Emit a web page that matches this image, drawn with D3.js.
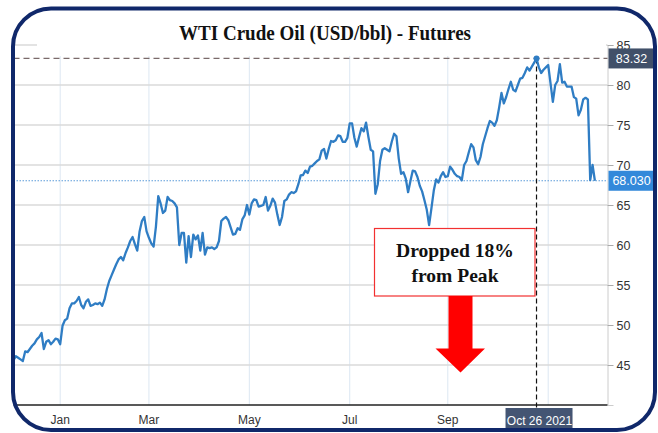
<!DOCTYPE html>
<html>
<head>
<meta charset="utf-8">
<script src="https://cdn.jsdelivr.net/npm/d3@7"></script>
<style>
  body { margin: 0; background: #fff; }
</style>
</head>
<body>
<div id="chart"></div>
<script>
// daily WTI futures closes, one per trading day from early Dec 2020
const prices = [
  45.6, 46.1, 45.9, 45.7, 45.5, 46.7, 46.6, 47.0, 47.4, 47.7,
  48.2, 48.5, 49.0, 47.0, 47.9, 48.1, 47.6, 47.9, 48.3, 48.2,
  47.6, 49.9, 50.6, 50.8, 52.1, 52.7, 52.7, 53.0, 53.5, 52.5,
  52.1, 52.9, 53.2, 52.4, 52.5, 52.7, 52.6, 52.8, 52.4, 53.2,
  54.5, 55.5, 56.2, 56.9, 57.6, 58.2, 58.5, 58.1, 59.0, 59.7,
  60.5, 61.0, 60.1, 59.3, 61.7, 63.0, 63.5, 61.7, 60.9, 60.2,
  59.8, 62.3, 66.1, 65.2, 64.0, 64.3, 66.0, 65.6, 65.5, 65.2,
  64.7, 60.0, 61.5, 61.5, 57.8, 61.1, 58.5, 61.3, 60.7, 61.2,
  59.3, 61.5, 58.8, 59.7, 59.6, 59.7, 59.5, 59.7, 60.5, 63.0,
  63.3, 63.5, 63.1, 62.2, 61.3, 61.4, 62.1, 61.9, 63.2, 63.7,
  65.0, 63.8, 65.2, 65.7, 65.6, 64.8, 64.9, 65.0, 66.0, 64.3,
  64.9, 65.8, 65.3, 63.8, 62.5, 63.5, 65.5, 65.7, 66.3, 66.6,
  66.5, 66.7, 67.6, 68.7, 68.75, 69.3, 69.0, 69.8, 69.9, 70.2,
  70.5, 70.7, 71.8, 72.0, 70.8, 72.0, 73.0, 72.9, 73.1, 73.7,
  73.6, 72.9, 72.9, 73.4, 75.2, 75.2, 73.4, 72.3, 73.5, 74.6,
  74.2, 75.3, 73.5, 71.9, 71.7, 66.4, 67.6, 70.5, 71.9, 72.1,
  71.9, 71.7, 72.9, 73.9, 73.6, 70.8, 68.9, 69.1, 68.3, 66.6,
  68.0, 69.3, 69.2, 68.5, 67.4, 66.7, 65.6, 64.4, 62.5, 64.6,
  66.8, 68.2, 67.8, 68.6, 69.1, 68.5, 68.6, 69.8, 69.4, 68.9,
  68.6, 68.5, 68.1, 70.0, 70.5, 71.6, 72.6, 72.2, 70.6, 70.1,
  71.0, 72.6, 73.6, 74.6, 75.5, 75.3, 74.9, 75.6, 77.2, 79.0,
  77.7, 78.5, 79.5, 80.4, 79.4, 79.2, 80.0, 80.8, 80.9, 81.5,
  82.2, 81.8, 82.3, 82.8, 83.32, 82.2, 81.5, 81.9, 82.2, 82.5,
  80.2, 77.9, 80.0, 80.5, 82.6, 80.3, 80.4, 79.8, 79.8, 79.8,
  78.5, 78.3, 76.2, 76.9, 78.2, 78.4, 78.2, 68.1, 70.0, 68.03
];

const yTicks = [45, 50, 55, 60, 65, 70, 75, 80, 85];
const monthNames = ["Jan", "Mar", "May", "Jul", "Sep"];
const monthStart = [20, 58, 101, 144, 186, 229];   // index of first trading day
const peakDate = "Oct 26 2021";
const noteLines = ["Dropped 18%", "from Peak"];
const titleText = "WTI Crude Oil (USD/bbl) - Futures";

const width = 658, height = 433;
const plot = {left: 13.5, right: 607.5, top: 45, bottom: 405};

const svg = d3.select("#chart").append("svg")
              .attr("width", width)
              .attr("height", height);

const x = d3.scaleLinear().domain([0, 254.4]).range([plot.left, plot.right]);
const y = d3.scaleLinear().domain([40, 85]).range([plot.bottom, plot.top]);

const sans = "'Liberation Sans', Arial, sans-serif";
const serif = "'Liberation Serif', 'DejaVu Serif', serif";

// vertical month grid
svg.append("g").selectAll("line")
   .data(monthStart)
   .join("line")
   .attr("x1", d => x(d)).attr("x2", d => x(d))
   .attr("y1", plot.top).attr("y2", plot.bottom)
   .attr("stroke", "#dce7f2").attr("stroke-width", 1);

// horizontal grid
svg.append("g").selectAll("line")
   .data(yTicks)
   .join("line")
   .attr("x1", plot.left).attr("x2", plot.right)
   .attr("y1", d => y(d)).attr("y2", d => y(d))
   .attr("stroke", "#dadada").attr("stroke-width", 1.5);

// white panel behind the title
svg.append("rect")
   .attr("x", 37).attr("y", 14)
   .attr("width", 569).attr("height", 42)
   .attr("fill", "#fff");

svg.append("text")
   .attr("x", 325).attr("y", 40)
   .attr("text-anchor", "middle")
   .attr("font-family", serif)
   .attr("font-weight", "bold")
   .attr("font-size", 20)
   .attr("textLength", 292)
   .attr("lengthAdjust", "spacingAndGlyphs")
   .attr("fill", "#111")
   .text(titleText);

// right axis
let yAxis = d3.axisRight(y).tickValues(yTicks).tickSize(6).tickPadding(3);
let yAxisGroup = svg.append("g")
   .attr("transform", `translate(${plot.right},0)`)
   .call(yAxis);
yAxisGroup.select(".domain").attr("stroke", "#cccccc");
yAxisGroup.selectAll(".tick line").attr("stroke", "#aaaaaa");
yAxisGroup.selectAll(".tick text")
   .attr("font-family", sans).attr("font-size", 12.5).attr("fill", "#333");

// bottom axis
svg.append("line")
   .attr("x1", plot.left).attr("x2", plot.right)
   .attr("y1", plot.bottom).attr("y2", plot.bottom)
   .attr("stroke", "#222").attr("stroke-width", 1.5);

svg.append("g").selectAll("text")
   .data(monthNames)
   .join("text")
   .attr("x", (d, i) => x(monthStart[i]))
   .attr("y", 424)
   .attr("text-anchor", "middle")
   .attr("font-family", sans).attr("font-size", 12).attr("fill", "#333")
   .text(d => d);

// reference lines
const peakIdx = d3.maxIndex(prices);
const peak = prices[peakIdx];
const last = prices[prices.length - 1];

svg.append("line")
   .attr("x1", plot.left).attr("x2", plot.right)
   .attr("y1", y(last)).attr("y2", y(last))
   .attr("stroke", "#5b9bd9").attr("stroke-width", 1)
   .attr("stroke-dasharray", "1.5,1.5");

svg.append("line")
   .attr("x1", plot.left).attr("x2", plot.right)
   .attr("y1", y(peak)).attr("y2", y(peak))
   .attr("stroke", "#7a6a6a").attr("stroke-width", 1.2)
   .attr("stroke-dasharray", "6,4");

svg.append("line")
   .attr("x1", x(peakIdx)).attr("x2", x(peakIdx))
   .attr("y1", y(peak)).attr("y2", plot.bottom + 25)
   .attr("stroke", "#111").attr("stroke-width", 1.2)
   .attr("stroke-dasharray", "5,3");

// price line
let line = d3.line()
   .x((d, i) => x(i))
   .y(d => y(d));

svg.append("path")
   .datum(prices)
   .attr("d", line)
   .attr("fill", "none")
   .attr("stroke", "#2f7dc4")
   .attr("stroke-width", 2.3)
   .attr("stroke-linejoin", "round");

svg.append("circle")
   .attr("cx", x(peakIdx)).attr("cy", y(peak))
   .attr("r", 3)
   .attr("fill", "#2f7dc4");

// value badges on the right axis
function badge(v, label, fill) {
  let g = svg.append("g");
  g.append("rect")
   .attr("x", plot.right + 1).attr("y", y(v) - 10)
   .attr("width", 48).attr("height", 20)
   .attr("fill", fill);
  g.append("text")
   .attr("x", plot.right + 24).attr("y", y(v) + 4.5)
   .attr("text-anchor", "middle")
   .attr("font-family", sans).attr("font-size", 12.5).attr("fill", "#fff")
   .text(label);
}
badge(peak, peak.toFixed(2), "#415069");
badge(last, last.toFixed(3), "#3389da");

// date badge under the peak
svg.append("rect")
   .attr("x", x(peakIdx) - 31).attr("y", plot.bottom + 3)
   .attr("width", 67).attr("height", 24)
   .attr("fill", "#445573");
svg.append("text")
   .attr("x", x(peakIdx) + 3).attr("y", plot.bottom + 19.5)
   .attr("text-anchor", "middle")
   .attr("font-family", sans).attr("font-size", 12).attr("fill", "#fff")
   .text(peakDate);

// annotation box + arrow
svg.append("rect")
   .attr("x", 374.5).attr("y", 228.5)
   .attr("width", 160.5).attr("height", 67.5)
   .attr("fill", "#fff")
   .attr("stroke", "#f23030").attr("stroke-width", 1.2);

svg.append("g").selectAll("text")
   .data(noteLines)
   .join("text")
   .attr("x", 455).attr("y", (d, i) => 257 + i * 25)
   .attr("text-anchor", "middle")
   .attr("font-family", serif).attr("font-weight", "bold")
   .attr("font-size", 19).attr("fill", "#111")
   .attr("textLength", (d, i) => i === 0 ? 118 : 87)
   .attr("lengthAdjust", "spacingAndGlyphs")
   .text(d => d);

svg.append("path")
   .attr("d", "M448.5,296 L472.5,296 L472.5,348.5 L485,348.5 L460.5,372.5 L435.5,348.5 L448.5,348.5 Z")
   .attr("fill", "#ff0000");

// rounded frame
svg.append("rect")
   .attr("x", 13).attr("y", 8.5)
   .attr("width", 642).attr("height", 421.5)
   .attr("rx", 38).attr("ry", 38)
   .attr("fill", "none")
   .attr("stroke", "#10286a").attr("stroke-width", 4);
</script>
</body>
</html>
